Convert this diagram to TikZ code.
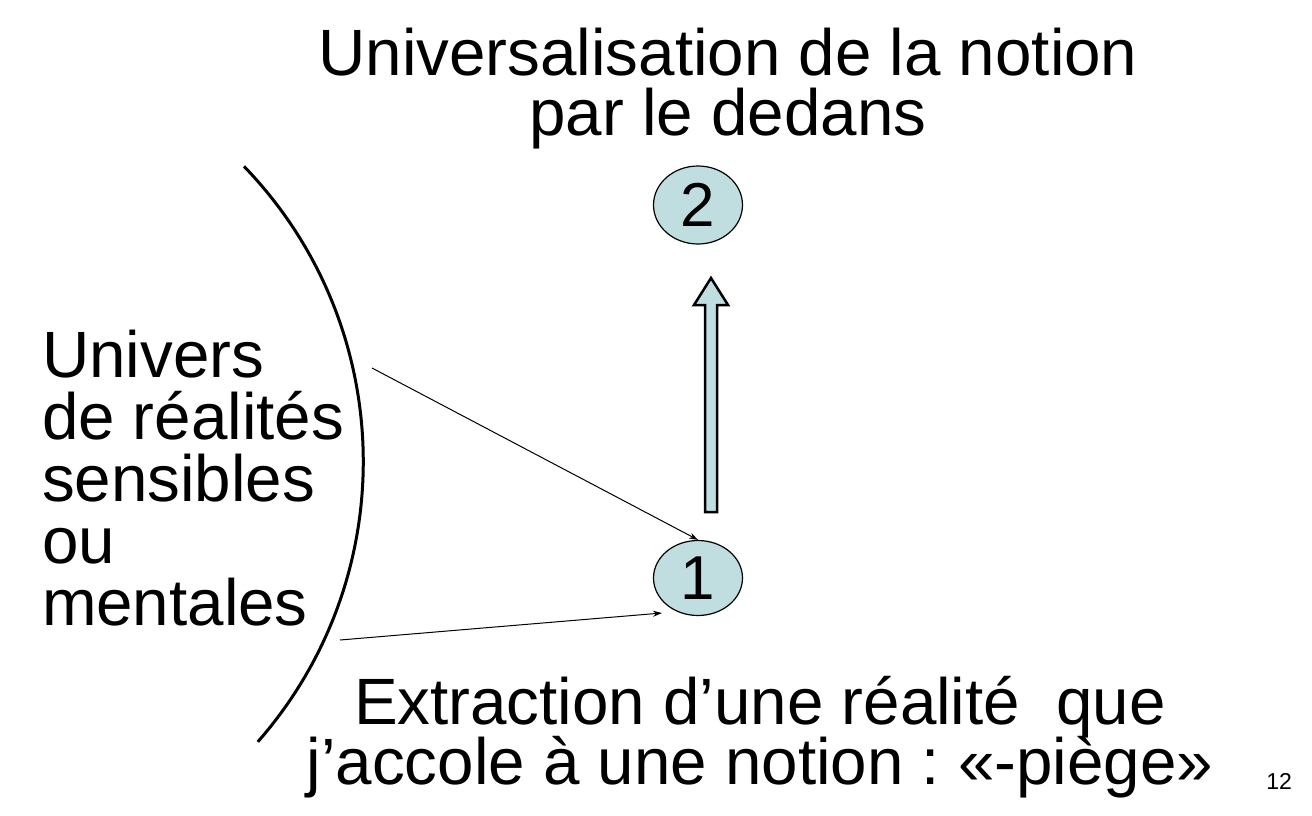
\documentclass[tikz,border=0pt]{standalone}
\usepackage{fontspec}
\setmainfont{Liberation Sans}
\usetikzlibrary{shapes.geometric,arrows.meta}
\definecolor{bubblefill}{RGB}{192,222,224}
\frenchspacing
\newcommand{\linesC}[1]{\vtop{\lineskiplimit=-100pt\halign{\hfil##\hfil\cr#1\crcr}}}
\newcommand{\linesL}[1]{\vtop{\lineskiplimit=-100pt\halign{##\hfil\cr#1\crcr}}}
\begin{document}
\begin{tikzpicture}[x=1pt,y=-1pt,
  bubble/.style={ellipse, draw=black, line width=1.2pt, fill=bubblefill,
    inner sep=0pt, font=\fontsize{62}{62}\selectfont},
  textblock/.style={inner sep=0pt, outer sep=0pt},
  thinarrow/.style={line width=1pt, -{Stealth[length=9pt,width=6pt]}},
  blockarrow/.style={line width=2.5pt, fill=bubblefill, line join=miter},
  border/.style={line width=3pt},
]
\useasboundingbox (0,0) rectangle (1312,816);

% texts
\node[textblock, anchor=base] (title) at (728,75)
  {\fontsize{65.5}{60}\selectfont\linesC{Universalisation de la notion\cr par le dedans}};
\node[textblock, anchor=base west] (univers) at (42,377)
  {\fontsize{65.5}{62}\selectfont\linesL{Univers\cr de réalités\cr sensibles\cr ou\cr mentales}};
\node[textblock, anchor=base] (extraction) at (760,724)
  {\fontsize{65.5}{60}\selectfont\linesC{Extraction d’une réalité\ \ que\cr j’accole à une notion : «-piège»}};
\node[textblock, anchor=base east] (page) at (1292,789) {\fontsize{23}{23}\selectfont 12};

% bubbles
\node[bubble, minimum width=89pt, minimum height=78pt] (n2) at (698,205) {2};
\node[bubble, minimum width=89pt, minimum height=75pt] (n1) at (698,578) {1};

% arc (boundary of the universe)
\draw[border] (-61.7,461.6) ++(-44.0:425) arc[start angle=-44.0, end angle=41.25, radius=425];

% thin arrows
\coordinate (s1) at (372,368);
\coordinate (s2) at (340,640);
\path (n1.center) ++(-36,35) coordinate (t2);
\draw[thinarrow] (s1) -- (n1.north);
\draw[thinarrow] (s2) -- (t2);

% block arrow
\draw[blockarrow] (705,512) -- (705,305) -- (694,305) -- (711,278) -- (728,305) -- (717,305) -- (717,512) -- cycle;
\end{tikzpicture}
\end{document}
